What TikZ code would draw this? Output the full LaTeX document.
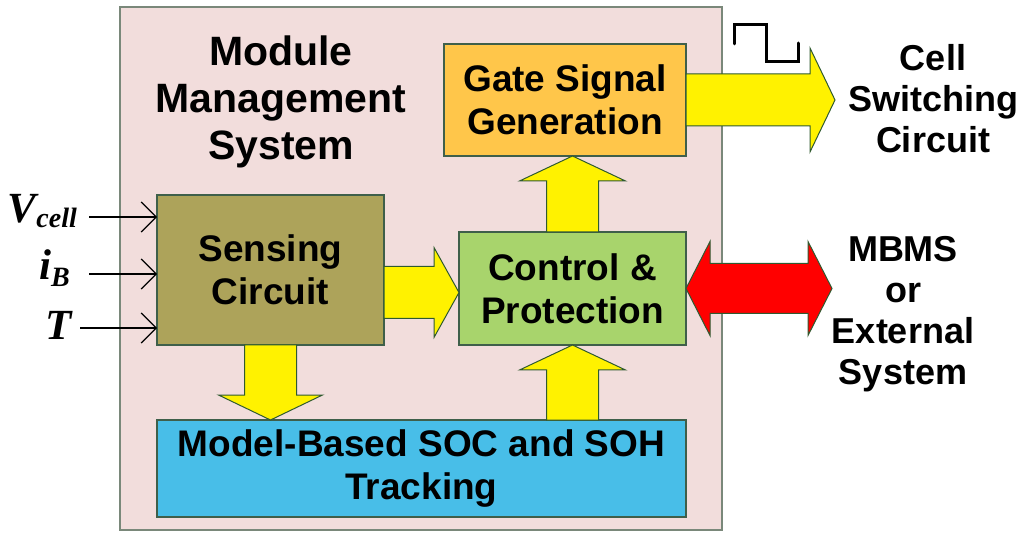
\documentclass[tikz,border=0pt]{standalone}
\usepackage{fontspec}
\setmainfont{Liberation Sans}
\newfontfamily\serifbi{Liberation Serif}
\usetikzlibrary{arrows.meta, calc}

\definecolor{pinkbg}{HTML}{F2DDDC}
\definecolor{outerline}{HTML}{7A887A}
\definecolor{blockline}{HTML}{3F5F4A}
\definecolor{arrowline}{HTML}{2F5A30}
\definecolor{gatefill}{HTML}{FFC64A}
\definecolor{sensefill}{HTML}{ADA35A}
\definecolor{ctrlfill}{HTML}{A8D46C}
\definecolor{modelfill}{HTML}{48BEE8}

\tikzset{
  block/.style={draw=blockline, line width=1.5pt, inner sep=0pt, outer sep=0pt,
    align=center, font=\bfseries\fontsize{37}{43}\selectfont},
  fatarrow/.style={draw=arrowline, line width=1pt, fill=yellow, line join=miter},
  inarrow/.style={line width=1.2pt, -{Straight Barb[length=15pt, width=30pt]}},
  inlabel/.style={anchor=base east, inner sep=0pt, font=\serifbi\bfseries\itshape\fontsize{43}{43}\selectfont},
  sidelabel/.style={align=center, font=\bfseries\fontsize{36}{41}\selectfont},
}

% tail, tip, half width of the head
\newcommand{\blockarrow}[3]{%
  \coordinate (hb) at ($(#2)!25pt!(#1)$);
  \draw[fatarrow] ($(#1)!26pt!90:(#2)$) -- ($(hb)!26pt!-90:(#1)$) -- ($(hb)!#3!-90:(#1)$)
    -- (#2) -- ($(hb)!#3!90:(#1)$) -- ($(hb)!26pt!90:(#1)$) -- ($(#1)!26pt!-90:(#2)$) -- cycle;
}

\begin{document}
\begin{tikzpicture}[x=1pt, y=-1pt]
  \useasboundingbox (0,0) rectangle (1025,534);

  \node[draw=outerline, fill=pinkbg, line width=1.5pt, inner sep=0pt,
    minimum width=602pt, minimum height=523pt] (mms) at (421,268.5) {};
  \node[align=center, font=\bfseries\fontsize{41}{47}\selectfont] (title) at (281,102)
    {Module\\Management\\System};

  \node[block, fill=gatefill, minimum width=242pt, minimum height=112pt] (gate) at (565,100)
    {Gate Signal\\Generation};
  \node[block, fill=sensefill, minimum width=227pt, minimum height=150pt] (sense) at (270.5,270)
    {Sensing\\Circuit};
  \node[block, fill=ctrlfill, minimum width=227pt, minimum height=113pt] (ctrl) at (572.5,288.5)
    {Control \&\\Protection};
  \node[block, fill=modelfill, minimum width=529pt, minimum height=97pt] (model) at (421.5,468.5)
    {Model-Based SOC and SOH\\Tracking};

  % block arrows
  \coordinate (a1tip) at ($(ctrl.west)+(0,4)$);
  \coordinate (a1tail) at (sense.east |- a1tip);
  \blockarrow{a1tail}{a1tip}{45pt}
  \coordinate (a2tip) at (sense.south |- model.north);
  \blockarrow{sense.south}{a2tip}{52pt}
  \coordinate (a3tip) at (ctrl.north |- gate.south);
  \blockarrow{ctrl.north}{a3tip}{53pt}
  \coordinate (a4tail) at (ctrl.south |- model.north);
  \blockarrow{a4tail}{ctrl.south}{53pt}
  \coordinate (celltip) at ($(gate.east)+(149,0)$);
  \blockarrow{gate.east}{celltip}{52pt}

  % two-way link
  \coordinate (exttip) at ($(ctrl.east)+(146,0)$);
  \coordinate (ha) at ($(ctrl.east)!24pt!(exttip)$);
  \coordinate (hc) at ($(exttip)!24pt!(ctrl.east)$);
  \draw[fatarrow, fill=red] (ctrl.east) -- ($(ha)!47pt!90:(exttip)$) -- ($(ha)!25pt!90:(exttip)$)
    -- ($(hc)!25pt!-90:(ctrl.east)$) -- ($(hc)!47pt!-90:(ctrl.east)$) -- (exttip)
    -- ($(hc)!47pt!90:(ctrl.east)$) -- ($(hc)!25pt!90:(ctrl.east)$)
    -- ($(ha)!25pt!-90:(exttip)$) -- ($(ha)!47pt!-90:(exttip)$) -- cycle;

  % square wave
  \draw[line width=3pt, line cap=round] (734,44) -- (734,25) -- (766,25) -- (766,62) -- (798,62) -- (798,43);

  \node[sidelabel] (cell) at (933,99) {Cell\\Switching\\Circuit};
  \node[sidelabel] (ext) at (903,314) {MBMS\\or\\External\\System};

  % inputs
  \node[inlabel] (vcell) at (77,223) {V\raisebox{-5pt}{\fontsize{28}{28}\selectfont cell}};
  \node[inlabel] (ib) at (70,280) {i\raisebox{-7pt}{\fontsize{28}{28}\selectfont B}};
  \node[inlabel] (temp) at (72,340) {T};
  \coordinate (vin) at (89,217);
  \coordinate (iin) at (89,274);
  \coordinate (tin) at (80,328);
  \draw[inarrow] (vin) -- (vin -| sense.west);
  \draw[inarrow] (iin) -- (iin -| sense.west);
  \draw[inarrow] (tin) -- (tin -| sense.west);
\end{tikzpicture}
\end{document}
